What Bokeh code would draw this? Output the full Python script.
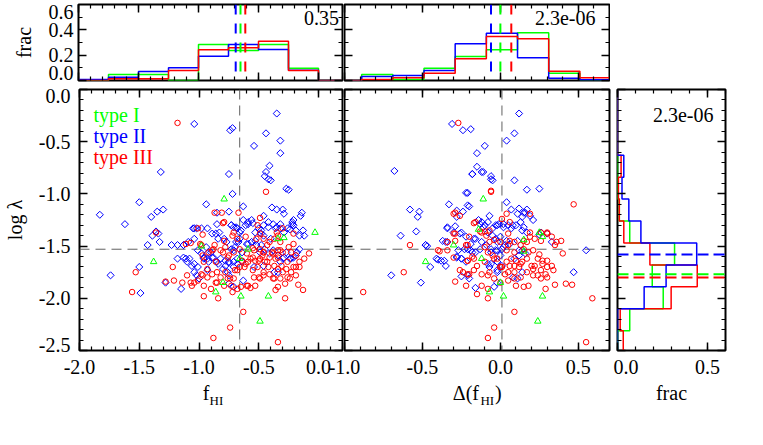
from bokeh.plotting import figure
from bokeh.models import (Range1d, LinearAxis, SingleIntervalTicker, FixedTicker,
                          PrintfTickFormatter, CustomJSTickFormatter, Span, Label)
from bokeh.layouts import row, column
from bokeh.embed import file_html
from bokeh.resources import INLINE

FONT = "Liberation Serif"
GREEN, BLUE, RED = "#00ff00", "#0000ff", "#ff0000"

# ---------------- data ----------------
# panel 1: f_HI vs log lambda
fhi_type1 = [(-0.79,-1.05),(-0.98,-1.50),(-0.03,-1.37),(-0.29,-1.42),(-0.34,-1.43),(-1.38,-1.65),
             (-0.80,-1.85),(-0.86,-1.94),(-0.65,-1.98),(-0.42,-1.98),(-0.49,-2.22),(-0.59,-1.53),(-0.66,-1.62)]
fhi_type2 = [(-1.04,-0.33),(-0.74,-0.39),(-0.72,-0.37),(-0.35,-0.23),(-0.44,-0.42),(-0.54,-0.54),(-0.32,-0.49),
             (-0.32,-0.61),(-0.41,-0.73),(-0.44,-0.79),(-0.45,-0.83),(-0.42,-0.86),(-0.40,-0.87),(-1.32,-0.79),
             (-0.75,-0.81),(-0.72,-1.00),(-0.27,-0.95),(-0.25,-0.96),(-1.50,-1.08),(-1.83,-1.20),(-1.62,-1.29),
             (-1.40,-1.22),(-1.35,-1.17),(-1.30,-1.15),(-0.94,-1.10),(-0.63,-1.12),(-0.75,-1.17),(-0.85,-1.18),
             (-0.46,-1.21),(-0.39,-1.13),(-0.35,-1.15),(-0.30,-1.15),(-0.29,-1.19),(-0.14,-1.18),(-0.15,-1.21),
             (-0.22,-1.27),(-0.21,-1.25),(-1.36,-1.36),(-1.34,-1.38),(-1.39,-1.40),(-1.33,-1.46),(-1.43,-1.49),
             (-1.23,-1.49),(-1.18,-1.49),(-1.13,-1.49),(-1.09,-1.46),(-1.05,-1.33),(-1.02,-1.33),(-1.04,-1.43),
             (-1.01,-1.54),(-0.16,-1.40),(-0.12,-1.40),(-0.13,-1.35),(-0.16,-1.53),(-1.50,-1.70),(-1.74,-1.78),
             (-1.49,-1.95),(-1.15,-1.91),(-1.28,-1.85),
             (-0.93,-1.33),(-0.89,-1.38),(-0.85,-1.29),(-0.83,-1.37),(-0.79,-1.43),(-0.77,-1.46),(-0.73,-1.30),
             (-0.71,-1.32),(-0.68,-1.33),(-0.66,-1.37),(-0.63,-1.25),(-0.61,-1.30),(-0.59,-1.27),(-0.56,-1.25),
             (-0.53,-1.37),(-0.50,-1.33),(-0.48,-1.38),(-0.46,-1.30),(-0.42,-1.27),(-0.38,-1.29),(-0.35,-1.32),
             (-0.32,-1.33),(-0.29,-1.37),(-0.24,-1.34),(-0.21,-1.30),(-0.73,-1.53),(-0.70,-1.51),(-0.67,-1.46),
             (-0.64,-1.56),(-0.60,-1.48),(-0.56,-1.46),(-0.52,-1.49),(-0.49,-1.56),(-0.45,-1.53),(-0.41,-1.57),
             (-0.38,-1.54),(-0.34,-1.59),(-0.30,-1.62),(-0.27,-1.56),(-0.24,-1.62),(-0.90,-1.56),(-0.88,-1.61),
             (-0.96,-1.62),(-0.93,-1.62),(-0.92,-1.65),(-0.85,-1.65),(-0.82,-1.62),(-0.78,-1.69),(-0.75,-1.65),
             (-0.71,-1.70),(-0.68,-1.67),(-0.64,-1.65),(-0.75,-1.78),(-0.71,-1.89),(-1.06,-1.69),(-1.08,-1.62),
             (-1.04,-1.75),(-1.02,-1.78),(-1.00,-1.81),(-1.01,-1.70),(-1.18,-1.62),(-1.13,-1.61),(-1.10,-1.65),
             (-0.63,-1.83),(-0.54,-1.70),(-0.46,-1.69),(-0.37,-1.75),(-0.32,-1.65),(-0.21,-1.61),(-0.18,-1.56),
             (-1.04,-1.33),(-0.98,-1.33),(-0.86,-1.38),(-0.73,-1.30),(-0.69,-1.32),(-0.65,-1.35),(-0.59,-1.29),
             (-0.55,-1.28),(-0.48,-1.35),(-0.46,-1.40),(-0.42,-1.32),(-0.36,-1.33),(-0.32,-1.29),(-0.26,-1.33),
             (-0.19,-1.35),(-0.22,-1.29),(-1.13,-1.49),(-0.94,-1.51),(-0.84,-1.43),(-0.69,-1.46),(-0.66,-1.43),
             (-0.59,-1.48),(-0.53,-1.45),(-0.48,-1.49),(-0.40,-1.43),(-0.98,-1.57),(-0.93,-1.57),(-0.89,-1.61),
             (-0.71,-1.54),(-0.29,-1.61),(-0.23,-1.62),(-0.19,-1.59),(-1.11,-1.62),(-1.04,-1.67),(-0.96,-1.61),
             (-0.78,-1.64),(-0.75,-1.66),(-0.71,-1.65),(-0.68,-1.62),(-0.84,-1.67),(-0.80,-1.72),(-0.76,-1.75),
             (-0.34,-1.75),(-0.93,-1.73),(-0.75,-1.86)]
fhi_type3 = [(-1.18,-0.32),(-0.44,-0.98),(-0.87,-1.18),(-0.67,-1.18),(-0.49,-1.23),(-1.36,-1.37),(-1.01,-1.33),
             (-0.98,-1.49),(-0.08,-1.57),(-1.53,-1.75),(-1.56,-1.94),(-1.28,-1.84),(-1.22,-1.70),(-0.96,-1.98),
             (-0.84,-2.00),(-0.73,-1.88),(-0.63,-2.13),(-0.74,-2.28),(-0.88,-2.38),(-0.34,-2.42),(-0.28,-2.00),
             (-0.57,-1.90),(-0.53,-1.88),(-0.49,-1.81),(-0.36,-1.92),(-0.28,-1.86),(-0.17,-1.87),(-0.13,-1.92),
             (-0.16,-1.70),(-0.19,-1.70),
             (-0.92,-1.56),(-0.88,-1.53),(-0.82,-1.54),(-0.78,-1.51),(-0.75,-1.59),(-0.71,-1.56),(-0.66,-1.53),
             (-0.60,-1.57),(-0.54,-1.54),(-0.49,-1.53),(-0.46,-1.56),(-0.43,-1.49),(-0.41,-1.46),(-0.37,-1.43),
             (-0.32,-1.46),(-0.38,-1.57),(-0.34,-1.54),(-0.30,-1.56),(-0.25,-1.51),(-0.21,-1.48),(-0.19,-1.59),
             (-0.97,-1.59),(-0.96,-1.65),(-0.93,-1.72),(-0.89,-1.77),(-0.85,-1.75),(-0.82,-1.80),(-0.78,-1.75),
             (-0.74,-1.81),(-0.70,-1.73),(-0.66,-1.70),(-0.61,-1.67),(-0.57,-1.62),(-0.53,-1.64),(-0.49,-1.62),
             (-0.45,-1.65),(-0.41,-1.61),(-0.36,-1.62),(-0.31,-1.69),(-0.27,-1.72),(-0.23,-1.75),(-0.19,-1.78),
             (-0.16,-1.65),(-0.12,-1.62),(-0.97,-1.78),(-0.96,-1.88),(-0.90,-1.91),(-0.85,-1.85),(-0.79,-1.88),
             (-0.72,-1.94),(-0.68,-1.91),(-0.60,-1.88),(-0.50,-1.80),(-0.46,-1.75),(-0.42,-1.70),(-0.38,-1.81),
             (-0.34,-1.72),(-0.30,-1.75),(-0.24,-1.81),(-1.04,-1.85),(-1.06,-1.88),(-1.10,-1.78),(-1.14,-1.85),
             (-0.99,-1.48),(-0.81,-1.18),(-0.79,-1.27),(-0.49,-1.38),(-0.46,-1.43),(-0.52,-1.43),(-0.61,-1.41),
             (-0.68,-1.43),(-0.71,-1.37),(-0.35,-1.37),(-0.30,-1.33),(-1.21,-1.83),(-1.11,-1.48),(-1.07,-1.47),
             (-0.80,-1.28),(-0.97,-1.39),(-0.51,-1.30),(-0.21,-1.38),(-0.34,-1.40),(-0.79,-1.45),(-0.72,-1.40),
             (-0.87,-1.49),(-0.89,-1.54),(-0.80,-1.56),(-0.76,-1.61),(-0.55,-1.52),(-0.46,-1.56),(-0.39,-1.56),
             (-0.34,-1.61),(-0.32,-1.54),(-0.23,-1.56),(-0.86,-1.65),(-0.64,-1.64),(-0.59,-1.65),(-0.55,-1.61),
             (-0.50,-1.64),(-0.47,-1.59),(-0.68,-1.73),(-0.62,-1.70),(-0.55,-1.73),(-0.51,-1.70),(-0.43,-1.65),
             (-0.37,-1.69),(-0.26,-1.65),(-0.21,-1.70),(-1.07,-1.85),(-1.01,-1.83),(-0.98,-1.77),(-0.93,-1.80),
             (-0.86,-1.85),(-0.76,-1.81),(-0.71,-1.81),(-0.54,-1.80),(-0.46,-1.78),(-0.41,-1.77),(-0.37,-1.81),
             (-0.32,-1.81),(-0.26,-1.80),(-0.59,-1.88),(-0.65,-1.89),(-0.34,-1.89)]

# panel 2: delta(f_HI) vs log lambda
dfhi_type1 = [(-0.11,-1.05),(-0.14,-1.34),(-0.30,-1.49),(-0.48,-1.65),(0.25,-1.37),(0.27,-1.41),(0.15,-1.44),
              (0.15,-1.55),(-0.12,-1.62),(0.00,-1.85),(-0.07,-1.94),(0.02,-1.98),(0.27,-1.98),(0.24,-2.22)]
dfhi_type2 = [(-0.31,-0.33),(-0.24,-0.39),(-0.19,-0.38),(0.12,-0.23),(0.09,-0.42),(0.04,-0.49),(-0.10,-0.54),
              (-0.15,-0.61),(-0.15,-0.74),(-0.11,-0.79),(-0.18,-0.81),(-0.06,-0.83),(-0.06,-0.86),(0.09,-0.87),
              (-0.68,-0.78),(-0.21,-0.99),(0.17,-0.96),(0.25,-0.95),(-0.33,-1.10),(-0.20,-1.12),(-0.24,-1.17),
              (-0.28,-1.22),(-0.58,-1.15),(-0.52,-1.17),(-0.53,-1.22),(-0.54,-1.36),(-0.64,-1.40),(-0.34,-1.33),
              (-0.29,-1.31),(-0.26,-1.38),(-0.48,-1.49),(-0.47,-1.50),(-0.37,-1.45),(-0.34,-1.46),(-0.40,-1.63),
              (-0.36,-1.64),(-0.35,-1.69),(-0.45,-1.70),(-0.70,-1.78),(-0.51,-1.85),(-0.28,-1.60),(-0.25,-1.62),
              (-0.22,-1.65),(-0.21,-1.78),(-0.25,-1.79),(-0.20,-1.81),(-0.16,-1.90),(-0.04,-1.89),(-0.02,-1.85),
              (0.04,-1.08),(0.07,-1.15),(0.11,-1.19),(0.15,-1.18),(0.16,-1.18),(0.19,-1.21),(0.21,-1.25),
              (0.30,-1.38),(0.33,-1.46),(0.55,-1.54),(0.47,-1.75),(0.25,-1.39),
              (-0.14,-1.25),(-0.12,-1.27),(-0.10,-1.30),(-0.08,-1.27),(-0.05,-1.33),(-0.03,-1.30),(-0.01,-1.29),
              (0.02,-1.32),(0.05,-1.30),(0.07,-1.33),(0.10,-1.30),(0.13,-1.27),(0.15,-1.32),(0.17,-1.37),
              (-0.08,-1.37),(-0.05,-1.40),(-0.03,-1.43),(0.00,-1.41),(0.04,-1.45),(0.06,-1.48),(0.02,-1.51),
              (-0.02,-1.54),(-0.06,-1.53),(-0.09,-1.49),(-0.12,-1.46),(-0.17,-1.43),(-0.19,-1.48),(-0.21,-1.53),
              (-0.18,-1.56),(-0.22,-1.41),(-0.25,-1.37),(-0.08,-1.67),(-0.07,-1.70),(-0.02,-1.65),(0.01,-1.69),
              (0.09,-1.62),(0.12,-1.59),(0.14,-1.54),(0.16,-1.57),(-0.02,-1.75),(0.08,-1.80),(0.11,-1.81),
              (0.14,-1.75),
              (-0.18,-0.81),(-0.12,-0.79),(-0.05,-0.87),(-0.22,-0.99),(-0.21,-1.11),(-0.07,-1.21),(-0.28,-1.16),
              (0.12,-1.14),(0.17,-1.15),(0.14,-1.22),(-0.13,-1.29),(-0.11,-1.32),(-0.02,-1.30),(0.02,-1.29),
              (0.08,-1.30),(0.14,-1.35),(-0.34,-1.32),(-0.30,-1.37),(-0.16,-1.43),(-0.02,-1.46),(0.03,-1.49),
              (0.11,-1.45),(0.26,-1.37),(-0.48,-1.49),(-0.35,-1.46),(-0.27,-1.54),(-0.23,-1.53),(-0.19,-1.54),
              (-0.16,-1.56),(-0.13,-1.53),(-0.06,-1.56),(-0.03,-1.54),(0.00,-1.59),(0.01,-1.53),(0.12,-1.54),
              (-0.41,-1.62),(-0.38,-1.64),(-0.28,-1.61),(-0.25,-1.62),(-0.06,-1.67),(-0.02,-1.65),(-0.02,-1.73)]
dfhi_type3 = [(-0.27,-0.32),(-0.06,-0.98),(0.47,-1.10),(-0.29,-1.18),(-0.26,-1.21),(-0.16,-1.27),(-0.22,-1.49),
              (-0.58,-1.49),(-0.39,-1.55),(-0.34,-1.46),(-0.29,-1.38),(-0.29,-1.45),(-0.62,-1.75),(-0.88,-1.94),
              (-0.29,-1.84),(-0.22,-1.88),(-0.15,-1.96),(-0.08,-2.00),(0.09,-2.13),(-0.04,-2.28),(-0.08,-2.38),
              (0.55,-2.42),(0.59,-2.00),(0.35,-1.87),(0.42,-1.86),(0.46,-1.87),(0.29,-1.91),(0.15,-1.89),
              (0.18,-1.88),(0.40,-1.57),(0.39,-1.45),(0.35,-1.49),(0.26,-1.37),(0.30,-1.37),(0.27,-1.64),
              (0.30,-1.70),(0.21,-1.72),(0.24,-1.78),(0.26,-1.81),(0.30,-1.80),
              (-0.12,-1.37),(-0.10,-1.36),(-0.07,-1.46),(-0.04,-1.44),(0.00,-1.46),(0.05,-1.49),(0.09,-1.46),
              (0.13,-1.49),(0.17,-1.46),(0.22,-1.43),(0.26,-1.45),(-0.08,-1.56),(-0.05,-1.59),(-0.02,-1.62),
              (0.01,-1.70),(0.04,-1.65),(0.07,-1.62),(0.09,-1.69),(0.12,-1.70),(0.14,-1.65),(0.17,-1.62),
              (0.22,-1.69),(0.24,-1.62),(-0.17,-1.62),(-0.15,-1.69),(-0.21,-1.64),(-0.24,-1.75),(-0.20,-1.77),
              (-0.12,-1.77),(-0.08,-1.78),(-0.04,-1.81),(0.00,-1.85),(0.05,-1.83),(0.09,-1.81),(0.05,-1.75),
              (0.10,-1.88),(-0.12,-1.88),(-0.08,-1.91),(0.00,-1.70),
              (-0.06,-0.97),(-0.30,-1.19),(0.04,-1.19),(0.19,-1.19),(-0.17,-1.28),(-0.13,-1.36),(-0.07,-1.35),
              (0.01,-1.24),(0.06,-1.27),(0.05,-1.38),(0.19,-1.37),(-0.30,-1.38),(-0.20,-1.41),(-0.09,-1.40),
              (0.06,-1.45),(0.15,-1.45),(0.19,-1.41),(0.30,-1.38),(0.33,-1.41),(0.36,-1.46),(-0.40,-1.54),
              (-0.34,-1.54),(-0.21,-1.49),(-0.10,-1.51),(0.04,-1.54),(0.09,-1.56),(0.15,-1.53),(0.18,-1.56),
              (0.21,-1.54),(0.25,-1.58),(-0.30,-1.61),(-0.21,-1.64),(-0.18,-1.60),(-0.10,-1.65),(-0.04,-1.62),
              (0.00,-1.70),(0.06,-1.69),(0.10,-1.64),(0.13,-1.67),(0.20,-1.69),(0.27,-1.67),(0.30,-1.64),
              (0.33,-1.69),(-0.26,-1.73),(-0.21,-1.77),(-0.17,-1.73),(-0.07,-1.75),(0.03,-1.77),(0.09,-1.75),
              (0.13,-1.80),(0.17,-1.75),(0.21,-1.78),(0.26,-1.73),(0.29,-1.77),(0.34,-1.73)]

# histograms (fraction per bin)
top1_edges = [-2.0, -1.75, -1.5, -1.25, -1.0, -0.75, -0.5, -0.25, 0.0, 0.25]
top1_type1 = [0.0, 0.047, 0.047, 0.0, 0.284, 0.237, 0.284, 0.097, 0.0]
top1_type2 = [0.008, 0.026, 0.071, 0.10, 0.192, 0.284, 0.245, 0.08, 0.0]
top1_type3 = [0.0, 0.013, 0.013, 0.079, 0.242, 0.258, 0.31, 0.079, 0.0]
top1_means = [-0.65, -0.69, -0.61]          # type I, II, III
top1_stat = "0.35"

top2_edges = [-1.09, -0.89, -0.69, -0.49, -0.29, -0.09, 0.11, 0.31, 0.51, 0.71]
top2_type1 = [0.0, 0.047, 0.008, 0.097, 0.189, 0.242, 0.376, 0.058, 0.005]
top2_type2 = [0.0, 0.032, 0.039, 0.079, 0.29, 0.373, 0.179, 0.018, 0.005]
top2_type3 = [0.0, 0.008, 0.021, 0.058, 0.171, 0.347, 0.329, 0.074, 0.021]
top2_means = [0.00, -0.06, 0.07]
top2_stat = "2.3e-06"

side_edges = [-2.52, -2.31, -2.10, -1.89, -1.68, -1.47, -1.26, -1.05, -0.84, -0.63, -0.42, -0.21, 0.0]
side_type1 = [0.0, 0.068, 0.254, 0.193, 0.317, 0.068, 0.01, 0.0, 0.0, 0.0, 0.0, 0.0]
side_type2 = [0.0, 0.0, 0.148, 0.27, 0.44, 0.13, 0.063, 0.025, 0.035, 0.0, 0.0, 0.0]
side_type3 = [0.032, 0.015, 0.298, 0.443, 0.18, 0.035, 0.01, 0.005, 0.02, 0.0, 0.0, 0.0]
side_means = [-1.77, -1.58, -1.80]
side_stat = "2.3e-06"

fhi_median = -0.66
dfhi_median = 0.01
lam_median = -1.53

legend_names = ["type I", "type II", "type III"]
ytick_labels_main = ["0.0", "-0.5", "-1.0", "-1.5", "-2.0", "-2.5"]
ytick_labels_frac = ["0.0", "0.2", "0.4", "0.6"]

FHI_RANGE = (-2.0, 0.2)
DFHI_RANGE = (-1.0, 0.7)
LAM_RANGE = (-2.5, 0.0)
TOP_RANGE = (0.0, 0.6)
SIDE_RANGE = (0.0, 0.6)

# ---------------- helpers ----------------
def make_fig(w, h, xr, yr, left, right, top, bottom, margin=None):
    p = figure(width=w, height=h, x_range=Range1d(*xr), y_range=Range1d(*yr),
               x_axis_location=None, y_axis_location=None, tools="", toolbar_location=None,
               output_backend="svg", min_border_left=left, min_border_right=right,
               min_border_top=top, min_border_bottom=bottom)
    if margin is not None:
        p.margin = margin
    p.grid.visible = False
    p.outline_line_color = "black"
    p.outline_line_width = 2
    p.background_fill_color = "white"
    p.border_fill_color = None
    return p

def tick_style(ax):
    ax.axis_line_color = None
    ax.major_tick_in = 8
    ax.major_tick_out = 0
    ax.minor_tick_in = 4
    ax.minor_tick_out = 0
    ax.major_tick_line_color = "black"
    ax.minor_tick_line_color = "black"
    ax.major_tick_line_width = 1.5
    ax.minor_tick_line_width = 1.2

def tick_axis(p, side, interval, nminor):
    ax = LinearAxis(ticker=SingleIntervalTicker(interval=interval, num_minor_ticks=nminor),
                    formatter=CustomJSTickFormatter(code="return ''"),
                    major_label_text_font_size="0px", major_label_standoff=0)
    tick_style(ax)
    p.add_layout(ax, side)

def labeled_x_axis(p, interval, nminor, standoff=9, title=None, title_standoff=5):
    ax = LinearAxis(ticker=SingleIntervalTicker(interval=interval, num_minor_ticks=nminor),
                    formatter=PrintfTickFormatter(format="%.1f"),
                    major_label_text_font=FONT, major_label_text_font_size="20px",
                    major_label_text_color="black", major_label_standoff=standoff)
    tick_style(ax)
    if title:
        ax.axis_label = title
        ax.axis_label_text_font = FONT
        ax.axis_label_text_font_size = "20px"
        ax.axis_label_text_font_style = "normal"
        ax.axis_label_text_color = "black"
        ax.axis_label_standoff = title_standoff
    p.add_layout(ax, "below")

def text_axis(p, side, positions, labels, size, standoff, title=None, title_standoff=0):
    """An axis without ticks that only writes the given texts at the given positions."""
    ax = LinearAxis(ticker=FixedTicker(ticks=positions, minor_ticks=[]),
                    formatter=CustomJSTickFormatter(args=dict(pos=positions, lab=labels), code="""
                        for (let i = 0; i < pos.length; i++) {
                            if (Math.abs(pos[i] - tick) < 1e-6) return lab[i];
                        }
                        return '';"""),
                    major_tick_in=0, major_tick_out=0, minor_tick_in=0, minor_tick_out=0,
                    axis_line_color=None, major_label_standoff=standoff,
                    major_label_text_font=FONT, major_label_text_font_size=size,
                    major_label_text_color="black")
    if title:
        ax.axis_label = title
        ax.axis_label_standoff = title_standoff
        ax.axis_label_text_font = FONT
        ax.axis_label_text_font_size = "20px"
        ax.axis_label_text_font_style = "normal"
        ax.axis_label_text_color = "black"
    p.add_layout(ax, side)

def text(p, x, y, s, color="black", size="20px", align="left"):
    p.add_layout(Label(x=x, y=y, text=s, text_font=FONT, text_font_size=size,
                       text_color=color, text_align=align, text_baseline="alphabetic"))

def steps(edges, vals):
    xs, ys = [edges[0]], [0.0]
    for i, v in enumerate(vals):
        xs += [edges[i], edges[i + 1]]
        ys += [v, v]
    xs.append(edges[-1]); ys.append(0.0)
    return xs, ys

def unzip(pts):
    return [a for a, b in pts], [b for a, b in pts]

def scatter_all(p, t1, t2, t3):
    x, y = unzip(t2)
    p.scatter(x, y, marker="square", angle=0.785398, size=5, line_color=BLUE, fill_color=None, line_width=1)
    x, y = unzip(t3)
    p.scatter(x, y, marker="circle", size=5.5, line_color=RED, fill_color=None, line_width=1)
    x, y = unzip(t1)
    p.scatter(x, y, marker="triangle", size=6.5, line_color=GREEN, fill_color=None, line_width=1)

def vspan(p, loc, color, width, dash, level="underlay"):
    p.add_layout(Span(location=loc, dimension="height", line_color=color, line_width=width,
                      line_dash=dash, level=level))

def hspan(p, loc, color, width, dash, level="underlay"):
    p.add_layout(Span(location=loc, dimension="width", line_color=color, line_width=width,
                      line_dash=dash, level=level))

COLORS = [GREEN, BLUE, RED]
MED_COLOR = "#606060"

# ---------------- top histograms ----------------
A = make_fig(343, 84, FHI_RANGE, TOP_RANGE, 78, 1, 4, 4)
tick_axis(A, "left", 0.2, 2)
text_axis(A, "left", [0.06, 0.2, 0.4, 0.537], ytick_labels_frac, "20px", 5, title="frac", title_standoff=11)
tick_axis(A, "below", 0.5, 5)
tick_axis(A, "above", 0.5, 5)
tick_axis(A, "right", 0.2, 2)
for vals, c in zip([top1_type1, top1_type2, top1_type3], COLORS):
    xs, ys = steps(top1_edges, vals)
    A.line(xs, ys, line_color=c, line_width=1.5)
for m, c in zip(top1_means, COLORS):
    vspan(A, m, c, 2, "10 9", level="overlay")
text(A, 0.17, 0.49, top1_stat, align="right")

B = make_fig(267, 84, DFHI_RANGE, TOP_RANGE, 1, 1, 4, 4)
tick_axis(B, "left", 0.2, 2)
tick_axis(B, "below", 0.5, 5)
tick_axis(B, "above", 0.5, 5)
tick_axis(B, "right", 0.2, 2)
for vals, c in zip([top2_type1, top2_type2, top2_type3], COLORS):
    xs, ys = steps(top2_edges, vals)
    B.line(xs, ys, line_color=c, line_width=1.5)
for m, c in zip(top2_means, COLORS):
    vspan(B, m, c, 2, "10 9", level="overlay")
text(B, 0.61, 0.49, top2_stat, align="right")

# ---------------- main panels ----------------
C = make_fig(343, 326, FHI_RANGE, LAM_RANGE, 78, 1, 5, 60)
tick_axis(C, "left", 0.5, 5)
text_axis(C, "left", [-0.06, -0.5, -1.0, -1.5, -2.0, -2.45], ytick_labels_main, "20px", 9,
          title="log λ", title_standoff=10)
labeled_x_axis(C, 0.5, 5)
text_axis(C, "below", [-0.942], ["f"], "20px", 5)
text_axis(C, "below", [-0.855], ["HI"], "13px", -14)
tick_axis(C, "above", 0.5, 5)
tick_axis(C, "right", 0.5, 5)
vspan(C, fhi_median, MED_COLOR, 1, "10 6")
hspan(C, lam_median, MED_COLOR, 1, "10 6")
scatter_all(C, fhi_type1, fhi_type2, fhi_type3)
for i, (name, c) in enumerate(zip(legend_names, COLORS)):
    text(C, -1.883, -0.249 - 0.201 * i, name, color=c)

D = make_fig(300, 326, DFHI_RANGE, LAM_RANGE, 31, 4, 5, 60, margin=(0, 0, 0, -30))
tick_axis(D, "left", 0.5, 5)
labeled_x_axis(D, 0.5, 5)
text_axis(D, "below", [-0.221, -0.013], ["Δ(f", ")"], "20px", 5)
text_axis(D, "below", [-0.084], ["HI"], "13px", -14)
tick_axis(D, "above", 0.5, 5)
tick_axis(D, "right", 0.5, 5)
vspan(D, dfhi_median, MED_COLOR, 1, "10 6")
hspan(D, lam_median, MED_COLOR, 1, "10 6")
scatter_all(D, dfhi_type1, dfhi_type2, dfhi_type3)

# ---------------- side histogram ----------------
E = make_fig(124, 326, SIDE_RANGE, LAM_RANGE, 4, 12, 5, 60)
tick_axis(E, "left", 0.5, 5)
labeled_x_axis(E, 0.5, 5, title="frac", title_standoff=5)
tick_axis(E, "above", 0.5, 5)
tick_axis(E, "right", 0.5, 5)
for vals, c in zip([side_type1, side_type3, side_type2], [GREEN, RED, BLUE]):
    ys, xs = steps(side_edges, vals)
    E.line(xs, ys, line_color=c, line_width=1.5)
for m, c in zip(side_means, COLORS):
    hspan(E, m, c, 2, "11 5", level="overlay")
text(E, 0.533, -0.249, side_stat, align="right")

layout = column(row(A, B), row(C, D, E))
open("out.html", "w").write(file_html(layout, INLINE))
